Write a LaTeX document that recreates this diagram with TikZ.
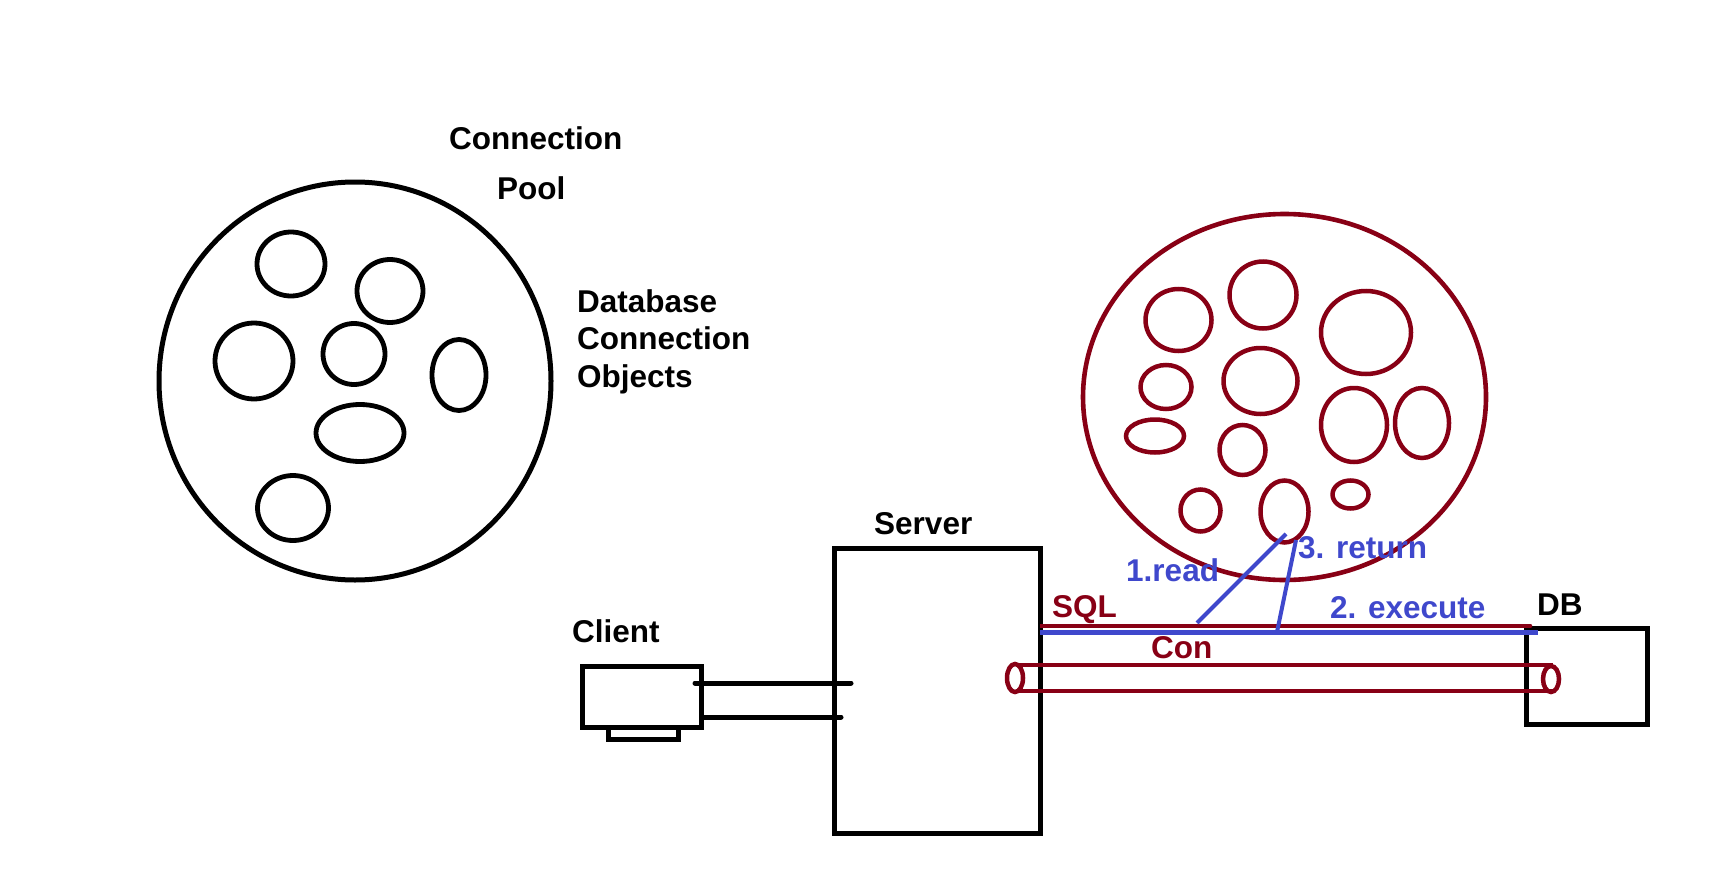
\documentclass[tikz,border=0pt]{standalone}
\usepackage{fontspec}
\setmainfont{Liberation Sans}
\usepackage{xcolor}
\usepackage{tikz}
\usetikzlibrary{shapes.geometric, positioning, calc}
\definecolor{darkred}{RGB}{136,0,21}
\definecolor{indigo}{RGB}{63,72,204}

\begin{document}
\begin{tikzpicture}[x=1pt, y=-1pt]
	\tikzstyle{lbl} = [inner sep=0pt, anchor=base west, font=\fontsize{31.5}{37.5}\selectfont\bfseries]
	\tikzstyle{box} = [rectangle, draw=black, line width=5pt, inner sep=0pt]
	\tikzstyle{pool} = [ellipse, draw=black, line width=5pt, inner sep=0pt]
	\tikzstyle{obj} = [draw=black, line width=4.8pt]
	\tikzstyle{redobj} = [draw=darkred, line width=4.5pt]
	\tikzstyle{wire} = [line width=4.6pt, line cap=round]
	
	\useasboundingbox (0,0) rectangle (1712,888);
	
	% Pools
	\node (pool) [pool, minimum width=392pt, minimum height=398pt] at (355,381) {};
	\node (cache) [pool, draw=darkred, line width=4.6pt, minimum width=403pt, minimum height=366pt] at (1284.5,397) {};
	
	% Connection objects
	\draw [obj] (291,264) ellipse [x radius=34pt, y radius=32pt];
	\draw [obj] (390,291) ellipse [x radius=33pt, y radius=31.5pt];
	\draw [obj] (254,361) ellipse [x radius=39pt, y radius=38pt];
	\draw [obj] (354,354) ellipse [x radius=31pt, y radius=30.5pt];
	\draw [obj] (459,375) ellipse [x radius=27pt, y radius=35.5pt];
	\draw [obj] (360,433) ellipse [x radius=44pt, y radius=28.5pt];
	\draw [obj] (293,508) ellipse [x radius=35.5pt, y radius=32.5pt];
	
	\draw [redobj] (1178.5,320) ellipse [x radius=33pt, y radius=31pt];
	\draw [redobj] (1263,295) ellipse [x radius=33.5pt, y radius=33.5pt];
	\draw [redobj] (1366,332.5) ellipse [x radius=45pt, y radius=41.5pt];
	\draw [redobj] (1166,387) ellipse [x radius=25.5pt, y radius=22pt];
	\draw [redobj] (1260.5,381) ellipse [x radius=37pt, y radius=33pt];
	\draw [redobj] (1155,436) ellipse [x radius=29pt, y radius=16.5pt];
	\draw [redobj] (1242.5,450) ellipse [x radius=23pt, y radius=25pt];
	\draw [redobj] (1354,425) ellipse [x radius=33pt, y radius=37pt];
	\draw [redobj] (1422,423) ellipse [x radius=27pt, y radius=35pt];
	\draw [redobj] (1200.5,510.5) ellipse [x radius=20pt, y radius=21pt];
	\draw [redobj] (1284.5,511.5) ellipse [x radius=24pt, y radius=31pt];
	\draw [redobj] (1350.5,494.5) ellipse [x radius=18pt, y radius=14pt];
	
	% Boxes
	\node (server) [box, minimum width=206pt, minimum height=285pt] at (937,690.5) {};
	\node (client) [box, minimum width=119pt, minimum height=61pt] at (641.5,696.5) {};
	\node (stand) [box, minimum width=70pt, minimum height=12pt] at (643,733) {};
	\node (db) [box, minimum width=121pt, minimum height=96pt] at (1586.5,676) {};
	
	% Wires
	\coordinate (cl1) at (695,683);
	\coordinate (sv1) at (851,683);
	\coordinate (cl2) at (703,717);
	\coordinate (sv2) at (841,717);
	\draw [wire, line width=5pt] (cl1) -- (sv1);
	\draw [wire, line width=5pt] (cl2) -- (sv2);
	
	\coordinate (sqlA) at (1040,626);
	\coordinate (sqlB) at (1530,626);
	\coordinate (exA) at (1040,632.5);
	\coordinate (exB) at (1538,632.5);
	\draw [wire, darkred, line width=4.4pt, line cap=butt] (sqlA) -- (sqlB);
	\draw [wire, darkred, line width=4.4pt] (sqlB) -- +(0.1,0);
	\draw [line width=4.8pt, indigo] (exA) -- (exB);
	
	\coordinate (rdA) at (1197,623);
	\coordinate (rdB) at (1286,534);
	\coordinate (rtA) at (1277,632);
	\coordinate (rtB) at (1296,540);
	\draw [line width=4pt, indigo] (rdA) -- (rdB);
	\draw [line width=4pt, indigo] (rtA) -- (rtB);
	
	% Con pipe
	\coordinate (pipeL) at (1015,678);
	\coordinate (pipeR) at (1551,679);
	\draw [redobj, line width=4.8pt] (1017,665) -- (1553,665);
	\draw [redobj, line width=4.8pt] (1017,691) -- (1553,691);
	\draw [redobj] (pipeL) ellipse [x radius=8pt, y radius=14pt];
	\draw [redobj] (pipeR) ellipse [x radius=8pt, y radius=13pt];
	
	% Labels
	\node (pooltitle) [lbl] at (449,149) {Connection};
	\node (pooltitleb) [lbl] at (497,199) {Pool};
	\node (objects) [lbl, anchor=north west, align=left] at (577,289) {Database\\Connection\\Objects};
	\node (clientlbl) [lbl] at (572,642) {Client};
	\node (serverlbl) [lbl] at (874,534) {Server};
	\node (dblbl) [lbl] at (1537,615) {DB};
	\node (sql) [lbl, text=darkred] at (1052,617) {SQL};
	\node (con) [lbl, text=darkred] at (1151,658) {Con};
	\node (read) [lbl, text=indigo] at (1126,581) {1.read};
	\node (ret) [lbl, text=indigo] at (1298,558) {3. return};
	\node (exec) [lbl, text=indigo] at (1330,618) {2. execute};
	
\end{tikzpicture}
\end{document}
